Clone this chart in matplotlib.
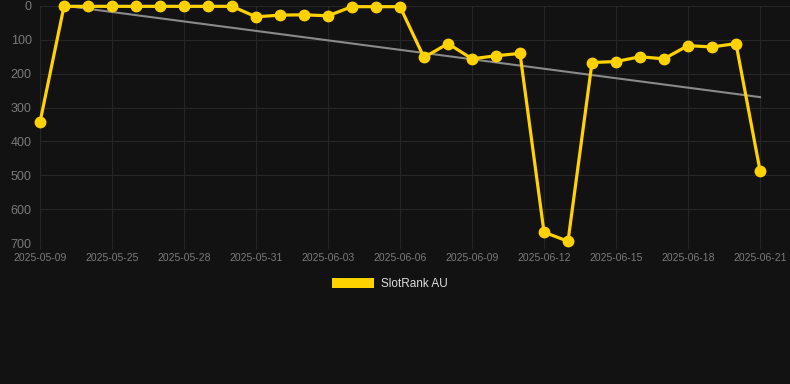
import numpy as np
import pandas as pd
import matplotlib
matplotlib.use("Agg")
import matplotlib.pyplot as plt
from matplotlib.patches import Patch

# Данные графика
dates = ["2025-05-09", "2025-05-23", "2025-05-24"] + \
    [d.strftime("%Y-%m-%d") for d in pd.date_range("2025-05-25", "2025-06-21")]
rank = [343, 1, 1, 1, 1, 1, 1, 1, 1, 32, 27, 26, 29, 2, 2, 2,
        152, 111, 156, 147, 140, 668, 695, 167, 164, 150, 156, 117, 121, 111, 486]
series_name = "SlotRank AU"

bg = "#121212"
gold = "#FFD200"

plt.rcParams["font.family"] = ["Liberation Sans", "DejaVu Sans"]

fig = plt.figure(figsize=(7.9, 3.84), dpi=100, facecolor=bg)
W, H = 790, 384
ax = fig.add_axes([40 / W, 1 - 243 / H, 750 / W, 237 / H], facecolor=bg)

x = np.arange(len(rank))

# Линия тренда (линейная регрессия)
k, b = np.polyfit(x, rank, 1)
ax.plot(x, k * x + b, color="#8a8a8a", lw=1.5, zorder=2)

ax.plot(x, rank, color=gold, lw=2.3, marker="o", markersize=7.5,
        zorder=3, clip_on=False)

ax.set_xlim(0, 31.25)
ax.set_ylim(700, 0)
ax.set_yticks(range(0, 701, 100))
ax.set_xticks(x[::3])
ax.set_xticklabels(dates[::3])

ax.grid(True, color="#262626", lw=0.8)
for s in ax.spines.values():
    s.set_visible(False)
ax.tick_params(axis="x", colors="#262626", labelcolor="#7a7a7a", labelsize=7.5,
               length=4, pad=3)
ax.tick_params(axis="y", length=0, labelcolor="#7a7a7a", labelsize=9, pad=6)

fig.legend(handles=[Patch(facecolor=gold, label=series_name)],
           loc="center", bbox_to_anchor=(390 / W, 1 - 284 / H),
           frameon=False, handlelength=3.6, handleheight=1.0,
           fontsize=8.5, labelcolor="#dddddd", handletextpad=0.6)

fig.savefig("out.png", dpi=100, facecolor=bg)
